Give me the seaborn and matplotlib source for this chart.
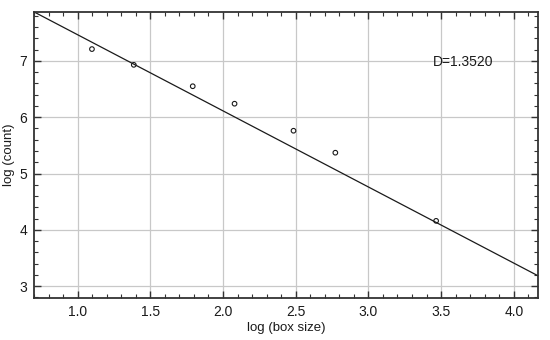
import numpy as np
import pandas as pd
import matplotlib
matplotlib.use("Agg")
import matplotlib.pyplot as plt
import seaborn as sns
from matplotlib.ticker import MultipleLocator, AutoMinorLocator

# data
log_box_size = [1.0986, 1.3863, 1.7918, 2.0794, 2.4849, 2.7726, 3.4657]
log_count = [7.21, 6.93, 6.55, 6.24, 5.76, 5.37, 4.16]
fit_x = [0.70, 4.17]
fit_y = [7.87, 3.18]
label_text = "D=1.3520"

sns.set_style("whitegrid")
plt.rcParams["font.family"] = ["Liberation Sans", "DejaVu Sans"]

fig = plt.figure(figsize=(5.5, 3.4), dpi=100)
ax = fig.add_axes([0.0618, 0.1235, 0.916, 0.8415])

pts = pd.DataFrame({"x": log_box_size, "y": log_count})
fit = pd.DataFrame({"x": fit_x, "y": fit_y})

sns.lineplot(data=fit, x="x", y="y", ax=ax, color="#1a1a1a", linewidth=0.9)
sns.scatterplot(data=pts, x="x", y="y", ax=ax, marker="o", s=11,
                facecolor="none", edgecolor="#1a1a1a", linewidth=0.8, zorder=3)

ax.set_xlim(0.7, 4.165)
ax.set_ylim(2.79, 7.87)
ax.xaxis.set_major_locator(MultipleLocator(0.5))
ax.xaxis.set_minor_locator(AutoMinorLocator(5))
ax.yaxis.set_major_locator(MultipleLocator(1))
ax.yaxis.set_minor_locator(AutoMinorLocator(5))
ax.xaxis.set_major_formatter(matplotlib.ticker.FormatStrFormatter("%.1f"))
ax.yaxis.set_major_formatter(matplotlib.ticker.FormatStrFormatter("%d"))

ax.grid(True, which="major", color="#c8c8c8", linewidth=0.9)
ax.grid(False, which="minor")
for s in ax.spines.values():
    s.set_visible(True)
    s.set_color("#333333")
    s.set_linewidth(1.3)

ax.tick_params(which="both", direction="in", top=True, right=True,
               bottom=True, left=True, color="#333333")
ax.tick_params(which="major", length=5, width=1.0, labelsize=10,
               labelcolor="#1a1a1a", pad=5)
ax.tick_params(which="minor", length=3, width=0.8)

ax.set_xlabel("log (box size)", fontsize=9.5, color="#1a1a1a", labelpad=2)
ax.set_ylabel("log (count)", fontsize=9.5, color="#1a1a1a", labelpad=3)

ax.text(3.443, 6.98, label_text, fontsize=10, color="#1a1a1a",
        ha="left", va="center")

fig.savefig("out.png", dpi=100)
